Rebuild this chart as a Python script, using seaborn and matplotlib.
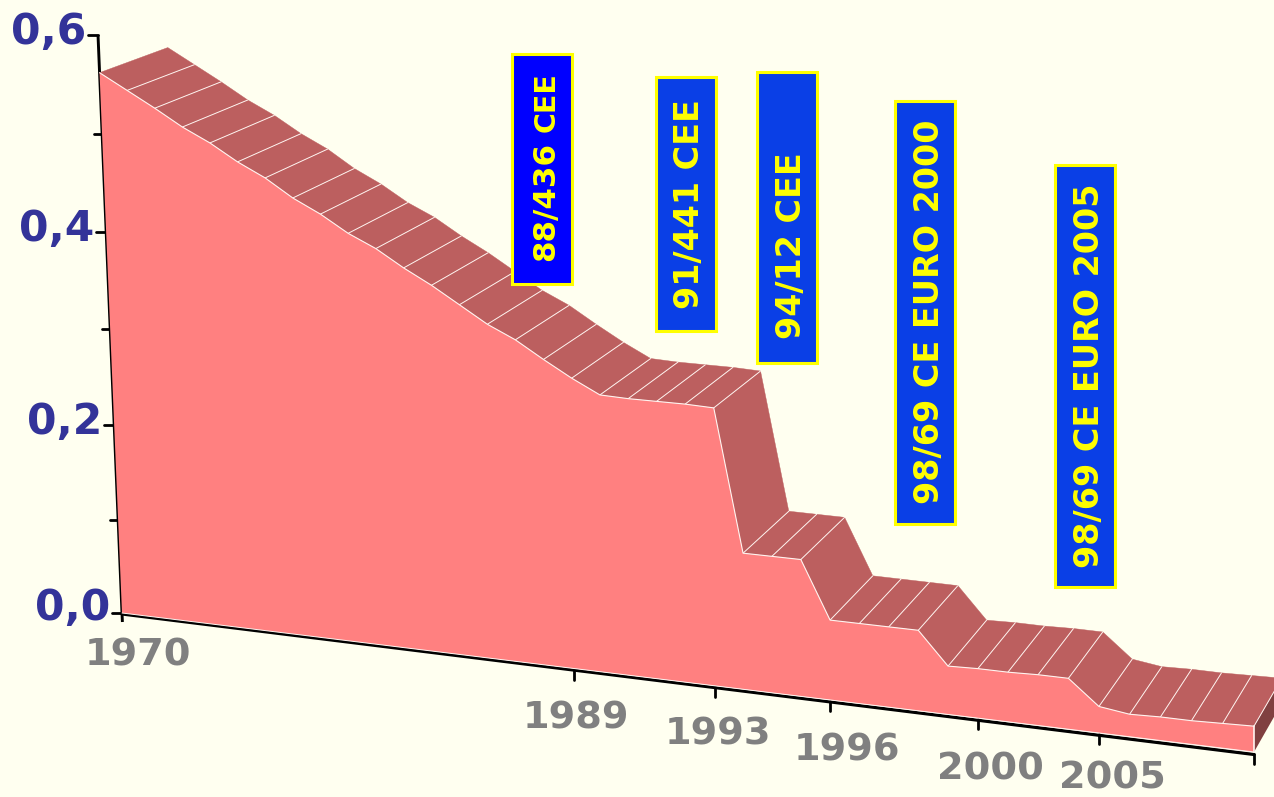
import numpy as np
import pandas as pd
import matplotlib
matplotlib.use("Agg")
import matplotlib.pyplot as plt
import seaborn as sns

# ── Data ─────────────────────────────────────────────────────────────────────
values = [0.562, 0.546, 0.530, 0.513, 0.499, 0.482, 0.468, 0.450, 0.436, 0.419,
          0.406, 0.389, 0.374, 0.357, 0.340, 0.327, 0.310, 0.294, 0.280, 0.279,
          0.279, 0.279, 0.278, 0.137, 0.137, 0.137, 0.080, 0.080, 0.080, 0.080,
          0.048, 0.049, 0.049, 0.050, 0.050, 0.026, 0.022, 0.023, 0.023, 0.024,
          0.025]
year_labels = ["1970", "1989", "1993", "1996", "2000", "2005"]
year_points = [0, 17, 22, 26, 31, 35]
last_point = 40
major_ticks = [0.0, 0.2, 0.4, 0.6]
minor_ticks = [0.1, 0.3, 0.5]
major_labels = ["0,0", "0,2", "0,4", "0,6"]
directives = ["91/441 CEE", "94/12 CEE", "98/69 CE EURO 2000", "98/69 CE EURO 2005"]

# Colours
BG = "#FFFFF0"
FRONT = "#FF8080"
TOP = "#BC5F5F"
SIDE = "#804040"
NAVY = "#333399"
GREY = "#808080"
YELLOW = "#FFFF00"

# Layout of the 3D look, in pixels of the picture
year_offsets = [(16, 43), (2, 50), (3, 49), (17, 51), (13, 51), (13, 46)]
label_boxes = [(656, 77, 60, 254), (757, 72, 60, 291), (895, 101, 60, 423), (1055, 165, 60, 422)]
label_centers = [(689, 204), (791, 246), (930, 312), (1089, 376)]
VANISH = np.array([2050.0, -645.0])
DEPTH = 0.035


def project(i, v):
    # category index + value -> picture position on the front plane
    w = 1 - 0.0025 * i
    t = 25.47 * i / w
    bx = 122 + t
    by = 613 + 0.1228 * t
    tilt = 40 * (1 - t / 1132) ** 3
    h = (929 / w) * v / (1 - 0.06 * v)
    return np.array([bx - tilt * v, by - h])


def back(p):
    return p + DEPTH * (VANISH - p)


sns.set_style("white")
plt.rcParams["font.family"] = ["DejaVu Sans"]
plt.rcParams["font.weight"] = "bold"

fig = plt.figure(figsize=(12.74, 7.97), dpi=100, facecolor=BG)
ax = fig.add_axes([0, 0, 1, 1])
ax.set_xlim(0, 1274)
ax.set_ylim(797, 0)
ax.axis("off")

points = np.arange(len(values))
front_top = np.array([project(i, v) for i, v in zip(points, values)])
front_base = np.array([project(i, 0) for i in points])
back_top = np.array([back(p) for p in front_top])

# ── Axes lines ───────────────────────────────────────────────────────────────
axis_ys = np.array([project(0, v) for v in [0.6, 0]])
ax.plot([axis_ys[0][0], axis_ys[1][0], axis_ys[1][0] + 0.4],
        [axis_ys[0][1], axis_ys[1][1], axis_ys[1][1] + 9],
        color="black", lw=2.1, zorder=1, solid_capstyle="butt")
for v, lab in zip(major_ticks, major_labels):
    p = project(0, v)
    ax.plot([p[0] - 10, p[0]], [p[1], p[1]], color="black", lw=2, zorder=1)
    ax.text(p[0] - 12, p[1] - 3 if v > 0 else p[1] - 5, lab, color=NAVY, fontsize=30.5,
            ha="right", va="center")
for v in minor_ticks:
    p = project(0, v)
    ax.plot([p[0] - 8, p[0]], [p[1], p[1]], color="black", lw=2, zorder=1)

base_end = project(last_point, 0)
ax.plot([122, base_end[0]], [614, base_end[1] + 2.5], color="black", lw=2.3, zorder=1)
ax.plot([base_end[0], base_end[0]], [base_end[1] + 2, base_end[1] + 12], color="black", lw=2, zorder=1)
for pt, lab, off in zip(year_points, year_labels, year_offsets):
    p = project(pt, 0)
    if pt > 0:
        ax.plot([p[0], p[0]], [p[1] + 1, p[1] + 11], color="black", lw=2, zorder=1)
    ax.text(p[0] + off[0], p[1] + off[1], lab, color=GREY, fontsize=27.5, ha="center", va="center")

# ── Side, top and front faces ────────────────────────────────────────────────
side = np.array([front_top[-1], front_base[-1], back(front_base[-1]), back_top[-1]])
ax.fill(side[:, 0], side[:, 1], color=SIDE, lw=0, zorder=2)

for i in range(len(values) - 1):
    quad = np.array([front_top[i], front_top[i + 1], back_top[i + 1], back_top[i]])
    ax.fill(quad[:, 0], quad[:, 1], color=TOP, lw=0.3, zorder=3)

# thin light lines across the top face
for f, b in zip(front_top[1:], back_top[1:]):
    ax.plot([f[0], b[0]], [f[1], b[1]], color="#FFF4F0", lw=0.7, zorder=4)

outline = np.vstack([front_top, front_base[::-1]])
ax.fill(outline[:, 0], outline[:, 1], color=FRONT, lw=0, zorder=5)

# front ridge and right edge
ridge = pd.DataFrame({"x": front_top[:, 0], "y": front_top[:, 1]})
sns.lineplot(data=ridge, x="x", y="y", sort=False, estimator=None, color="#FFF4F0",
             lw=0.8, ax=ax, zorder=6)
ax.plot([front_top[-1][0], front_base[-1][0]], [front_top[-1][1], front_base[-1][1]],
        color="#FFF4F0", lw=1.2, zorder=6)
ax.plot(front_base[[0, -1], 0], front_base[[0, -1], 1], color="#FFF4F0", lw=0.7, zorder=6)

# seaborn resets limits and labels, so put them back
ax.set_xlim(0, 1274)
ax.set_ylim(797, 0)
ax.axis("off")

# ── Directive boxes ──────────────────────────────────────────────────────────
ax.add_patch(plt.Rectangle((511.5, 54), 60, 230, fc="#0000FF", ec=YELLOW, lw=2.2, zorder=7))
ax.text(546, 201, "88/436", color=YELLOW, fontsize=22.3, rotation=90, ha="center", va="center", zorder=8)
ax.text(547, 102, "CEE", color=YELLOW, fontsize=20.5, rotation=90, ha="center", va="center", zorder=8)
for name, box, c in zip(directives, label_boxes, label_centers):
    ax.add_patch(plt.Rectangle(box[:2], box[2], box[3], fc="#0A3FE6", ec=YELLOW, lw=2.2, zorder=7))
    ax.text(c[0], c[1], name, color=YELLOW, fontsize=24, rotation=90, ha="center", va="center", zorder=8)

fig.savefig("out.png", dpi=100, facecolor=BG)
